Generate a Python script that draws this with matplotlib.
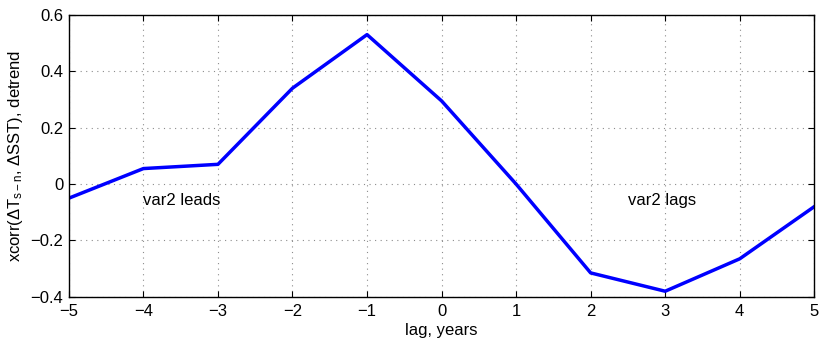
import matplotlib
matplotlib.use("Agg")
from matplotlib import pyplot as plt

# 数据
lags = [-5, -4, -3, -2, -1, 0, 1, 2, 3, 4, 5]
xcorr = [-0.05, 0.055, 0.07, 0.34, 0.53, 0.295, 0.0, -0.315, -0.38, -0.265, -0.08]
xticks = [-5, -4, -3, -2, -1, 0, 1, 2, 3, 4, 5]
yticks = [-0.4, -0.2, 0, 0.2, 0.4, 0.6]
ytick_labels = ["\u22120.4", "\u22120.2", "0", "0.2", "0.4", "0.6"]

plt.rcParams['font.family'] = ['Liberation Sans', 'DejaVu Sans']
plt.rcParams['mathtext.fontset'] = 'custom'
plt.rcParams['mathtext.rm'] = 'Liberation Sans'
plt.rcParams['mathtext.it'] = 'Liberation Sans'
plt.rcParams['font.size'] = 12

fig = plt.figure(figsize=(8.2, 3.46), dpi=100)
ax = fig.add_axes([0.084, 0.142, 0.909, 0.815])

ax.plot(lags, xcorr, color=(0, 0, 1), lw=2.5)

ax.set_xlim(-5, 5)
ax.set_ylim(-0.4, 0.6)
ax.set_xticks(xticks)
ax.set_xticklabels([str(t).replace("-", "\u2212") for t in xticks])
ax.set_yticks(yticks)
ax.set_yticklabels(ytick_labels)
ax.grid(True, color="0.55", linestyle=(0, (1, 4)), linewidth=0.8)
ax.tick_params(direction="in", top=True, right=True, length=4, width=0.8)
ax.tick_params(axis="x", pad=5)
ax.tick_params(axis="y", pad=4)
for s in ax.spines.values():
    s.set_linewidth(1.0)

ax.text(-4, -0.057, "var2 leads", ha="left", va="center", fontsize=12)
ax.text(2.5, -0.057, "var2 lags", ha="left", va="center", fontsize=12)

ax.set_xlabel("lag, years", labelpad=3)
ax.set_ylabel(r"xcorr($\Delta$T$_{\mathrm{s-n}}$, $\Delta$SST), detrend", labelpad=4)

plt.savefig("out.png", dpi=100)
